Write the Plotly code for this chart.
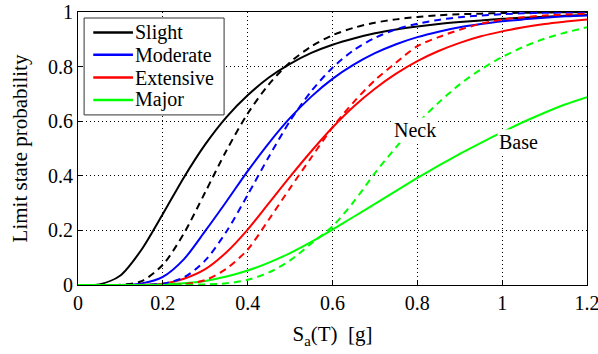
import plotly.graph_objects as go

sa = [0.00, 0.05, 0.10, 0.15, 0.20, 0.25, 0.30, 0.35, 0.40, 0.45, 0.50, 0.55, 0.60,
      0.65, 0.70, 0.75, 0.80, 0.85, 0.90, 0.95, 1.00, 1.05, 1.10, 1.15, 1.20]

slight_base = [0, 0.002, 0.035, 0.13, 0.26, 0.395, 0.515, 0.615, 0.695, 0.76, 0.81, 0.85, 0.88,
               0.903, 0.922, 0.936, 0.947, 0.956, 0.963, 0.969, 0.975, 0.979, 0.983, 0.986, 0.989]
slight_neck = [0, 0, 0.001, 0.014, 0.074, 0.19, 0.34, 0.493, 0.628, 0.735, 0.816, 0.874, 0.915,
               0.942, 0.961, 0.973, 0.982, 0.988, 0.992, 0.994, 0.996, 0.997, 0.998, 0.999, 0.999]
moderate_base = [0, 0, 0, 0.006, 0.03, 0.095, 0.198, 0.306, 0.417, 0.52, 0.612, 0.69, 0.755,
                 0.807, 0.849, 0.882, 0.908, 0.928, 0.944, 0.956, 0.966, 0.973, 0.979, 0.984, 0.987]
moderate_neck = [0, 0, 0, 0, 0.005, 0.028, 0.09, 0.196, 0.33, 0.47, 0.601, 0.71, 0.796,
                 0.86, 0.905, 0.937, 0.957, 0.971, 0.981, 0.987, 0.992, 0.995, 0.997, 0.998, 0.999]
extensive_base = [0, 0, 0, 0.001, 0.005, 0.023, 0.058, 0.12, 0.203, 0.30, 0.397, 0.49, 0.577,
                  0.654, 0.719, 0.774, 0.82, 0.857, 0.887, 0.911, 0.929, 0.944, 0.956, 0.965, 0.973]
extensive_neck = [0, 0, 0, 0, 0, 0.003, 0.018, 0.06, 0.13, 0.24, 0.355, 0.467, 0.577,
                  0.67, 0.75, 0.815, 0.875, 0.908, 0.935, 0.957, 0.972, 0.981, 0.987, 0.991, 0.994]
major_base = [0, 0, 0, 0, 0.002, 0.006, 0.015, 0.031, 0.053, 0.082, 0.117, 0.158, 0.203,
              0.25, 0.297, 0.345, 0.392, 0.437, 0.48, 0.521, 0.56, 0.597, 0.631, 0.662, 0.688]
major_neck = [0, 0, 0, 0, 0, 0.001, 0.002, 0.006, 0.019, 0.046, 0.09, 0.152, 0.215,
              0.305, 0.41, 0.505, 0.592, 0.668, 0.735, 0.79, 0.835, 0.872, 0.902, 0.925, 0.944]

states = ["Slight", "Moderate", "Extensive", "Major"]
colors = ["#000000", "#0000ff", "#ff0000", "#00ff00"]
base_series = [slight_base, moderate_base, extensive_base, major_base]
neck_series = [slight_neck, moderate_neck, extensive_neck, major_neck]

tick_vals_x = [0, 0.2, 0.4, 0.6, 0.8, 1.0, 1.2]
tick_text_x = ["0", "0.2", "0.4", "0.6", "0.8", "1", "1.2"]
tick_vals_y = [0, 0.2, 0.4, 0.6, 0.8, 1.0]
tick_text_y = ["0", "0.2", "0.4", "0.6", "0.8", "1"]

FONT = "Liberation Serif, Times New Roman, serif"

fig = go.Figure()
for name, col, yb in zip(states, colors, base_series):
    fig.add_trace(go.Scatter(x=sa, y=yb, mode="lines", name=name, showlegend=False,
                             line=dict(color=col, width=2, shape="spline", smoothing=0.8)))
for name, col, yn in zip(states, colors, neck_series):
    fig.add_trace(go.Scatter(x=sa, y=yn, mode="lines", name=name + " (neck)", showlegend=False,
                             line=dict(color=col, width=2, dash="7px,5px", shape="spline", smoothing=0.8)))

fig.add_annotation(x=0.795, y=0.568, text="Neck", showarrow=False, bgcolor="white",
                   font=dict(family=FONT, size=20, color="black"), xref="x", yref="y")
fig.add_annotation(x=1.038, y=0.524, text="Base", showarrow=False, bgcolor="white",
                   font=dict(family=FONT, size=20, color="black"), xref="x", yref="y")

# legend box (drawn in plot-area paper coordinates)
leg_x0, leg_x1, leg_y0, leg_y1 = 0.012, 0.287, 0.623, 0.978
leg_line_x0, leg_line_x1, leg_text_x = 0.03, 0.108, 0.108
leg_rows_y = [0.925, 0.843, 0.760, 0.678]
fig.add_shape(type="rect", xref="paper", yref="paper", x0=leg_x0, x1=leg_x1, y0=leg_y0, y1=leg_y1,
              line=dict(color="#333333", width=1), fillcolor="white", layer="above")
for name, col, ry in zip(states, colors, leg_rows_y):
    fig.add_shape(type="line", xref="paper", yref="paper", x0=leg_line_x0, x1=leg_line_x1, y0=ry, y1=ry,
                  line=dict(color=col, width=2.5), layer="above")
    fig.add_annotation(xref="paper", yref="paper", x=leg_text_x, y=ry, xanchor="left", yanchor="middle",
                       text=name, showarrow=False, font=dict(family=FONT, size=20, color="black"))

axis_common = dict(showline=True, linecolor="black", linewidth=1, mirror=True,
                   showgrid=True, gridcolor="black", gridwidth=1, griddash="1px,3px",
                   ticks="inside", ticklen=4, tickcolor="black", zeroline=False,
                   ticklabeloverflow="allow", automargin=False,
                   tickfont=dict(family=FONT, size=20, color="black"))

fig.update_xaxes(range=[0, 1.2], tickvals=tick_vals_x, ticktext=tick_text_x,
                 title=dict(text="S<sub>a</sub>(T)  [g]", font=dict(family=FONT, size=21, color="black"),
                            standoff=13), **axis_common)
fig.update_yaxes(range=[0, 1], tickvals=tick_vals_y, ticktext=tick_text_y,
                 title=dict(text="Limit state probability", font=dict(family=FONT, size=21, color="black"),
                            standoff=14), **axis_common)

fig.update_layout(
    width=598, height=354,
    margin=dict(l=78, r=11, t=12, b=69),
    paper_bgcolor="white", plot_bgcolor="white",
    font=dict(family=FONT, size=20, color="black"),
    showlegend=False,
)

fig.write_html("out.html")
